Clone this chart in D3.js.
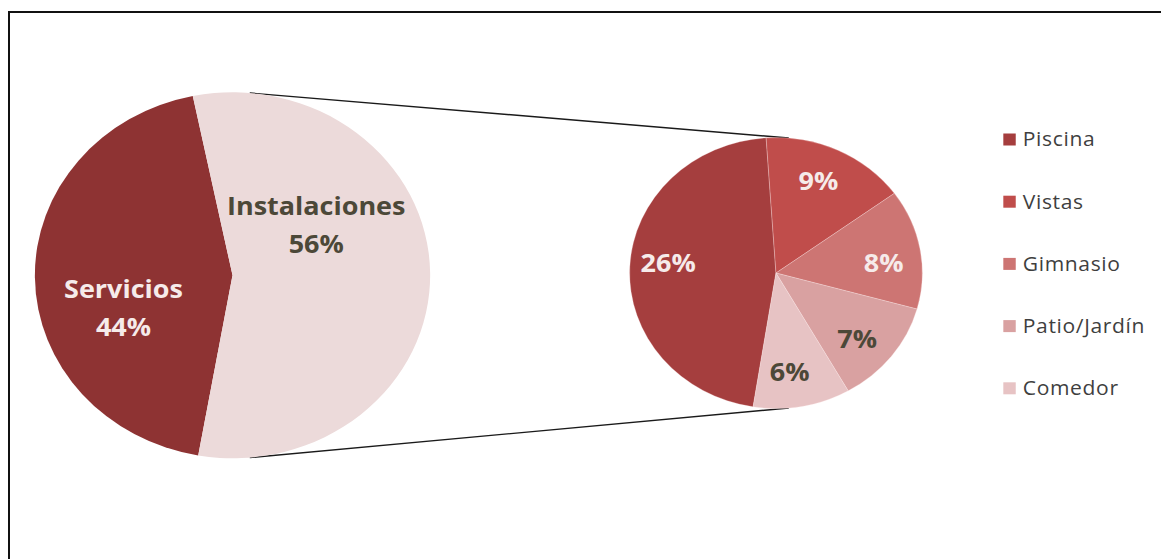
<!DOCTYPE html>
<html>
<head>
<meta charset="utf-8">
<script src="https://cdn.jsdelivr.net/npm/d3@7"></script>
<style>
  html, body { margin: 0; padding: 0; background: #fff; }
  svg { display: block; }
</style>
</head>
<body>
<svg id="chart" width="1161" height="559"></svg>
<script>
// Main split: services vs. facilities (share of all mentions, %)
const mainCategories = ["Servicios", "Instalaciones"];
const mainValues = [44, 56];
const mainColors = ["#8e3333", "#ecdada"];
const mainLabelColors = ["#f6ebea", "#4c4838"];

// Breakdown of "Instalaciones" (share of all mentions, %)
const subCategories = ["Piscina", "Vistas", "Gimnasio", "Patio/Jardín", "Comedor"];
const subValues = [26, 9, 8, 7, 6];
const subColors = ["#a53e3e", "#c04d4b", "#cd7573", "#d9a1a1", "#e7c3c4"];
const subLabelColors = ["#f6ebea", "#f6ebea", "#f6ebea", "#4c4838", "#4c4838"];

const W = 1161, H = 559;
const sx = 1.08;              // horizontal stretch of the drawing
const deg = Math.PI / 180;

const svg = d3.select("#chart");

// frame
svg.append("rect")
  .attr("x", 9).attr("y", 12)
  .attr("width", W + 20).attr("height", H + 20)
  .attr("fill", "none").attr("stroke", "#111").attr("stroke-width", 2);

const g = svg.append("g").attr("transform", `scale(${sx},1)`);

const left = { cx: 215.3, cy: 275.3, r: 183 };
const right = { cx: 718.5, cy: 273, r: 135.5 };

const polar = (p, ang, rr) => [p.cx + rr * Math.sin(ang), p.cy - rr * Math.cos(ang)];

// connector lines between the two pies
const joinAngles = [5 * deg, 175 * deg];
joinAngles.forEach(a => {
  const p0 = polar(left, a, left.r);
  const p1 = polar(right, a, right.r);
  g.append("line")
    .attr("x1", p0[0]).attr("y1", p0[1])
    .attr("x2", p1[0]).attr("y2", p1[1])
    .attr("stroke", "#1a1a1a").attr("stroke-width", 1.4);
});

// ---- main pie ----
const mainPie = d3.pie().sort(null)
  .startAngle(190 * deg).endAngle(550 * deg)(mainValues);
const mainArc = d3.arc().innerRadius(0).outerRadius(left.r);

const gl = g.append("g").attr("transform", `translate(${left.cx},${left.cy})`);
gl.selectAll("path").data(mainPie).join("path")
  .attr("d", mainArc)
  .attr("fill", (d, i) => mainColors[i]);

// label anchors for the main pie: angle (deg, clockwise from top) and radius fraction
const mainLabelAt = [[252, 0.58], [57, 0.505]];
const fs = 25, cap = 0.714 * fs, lineGap = 37.5;
mainPie.forEach((d, i) => {
  const [a, f] = mainLabelAt[i];
  const [x, y] = polar(left, a * deg, f * left.r);
  const b1 = y - lineGap / 2 + cap / 2;
  const t = g.append("text")
    .attr("x", x).attr("y", b1)
    .attr("text-anchor", "middle")
    .attr("font-family", "'Open Sans', sans-serif")
    .attr("font-weight", 700)
    .attr("font-size", fs)
    .attr("fill", mainLabelColors[i]);
  t.append("tspan").attr("x", x).text(mainCategories[i]);
  t.append("tspan").attr("x", x).attr("dy", lineGap).text(d3.format(".0f")(d.data) + "%");
});

// ---- breakdown pie ----
const subPie = d3.pie().sort(null)
  .startAngle(189 * deg).endAngle(549 * deg)(subValues);
const subArc = d3.arc().innerRadius(0).outerRadius(right.r);

const gr = g.append("g").attr("transform", `translate(${right.cx},${right.cy})`);
gr.selectAll("path").data(subPie).join("path")
  .attr("d", subArc)
  .attr("fill", (d, i) => subColors[i])
  .attr("stroke", "rgba(255,235,235,0.35)")
  .attr("stroke-width", 0.8);

// angular nudge (deg) of each percentage label from its slice's mid-angle
const subLabelNudge = [3, -2, 4.5, 3.5, 3];
subPie.forEach((d, i) => {
  const mid = (d.startAngle + d.endAngle) / 2 + subLabelNudge[i] * deg;
  const [x, y] = polar(right, mid, 0.74 * right.r);
  g.append("text")
    .attr("x", x).attr("y", y + cap / 2)
    .attr("text-anchor", "middle")
    .attr("font-family", "'Open Sans', sans-serif")
    .attr("font-weight", 700)
    .attr("font-size", fs)
    .attr("fill", subLabelColors[i])
    .text(d3.format(".0f")(d.data) + "%");
});

// ---- legend ----
const legend = g.append("g").attr("transform", "translate(929,139.5)");
const rowStep = 62.2;
const items = legend.selectAll("g").data(subCategories).join("g")
  .attr("transform", (d, i) => `translate(0,${i * rowStep})`);
items.append("rect")
  .attr("x", 0).attr("y", -6).attr("width", 11.5).attr("height", 12)
  .attr("fill", (d, i) => subColors[i]);
items.append("text")
  .attr("x", 18).attr("y", 6.8)
  .attr("font-family", "'Open Sans', sans-serif")
  .attr("font-size", 19.5)
  .attr("letter-spacing", 0.6)
  .attr("fill", "#3f3f3f")
  .text(d => d);
</script>
</body>
</html>
